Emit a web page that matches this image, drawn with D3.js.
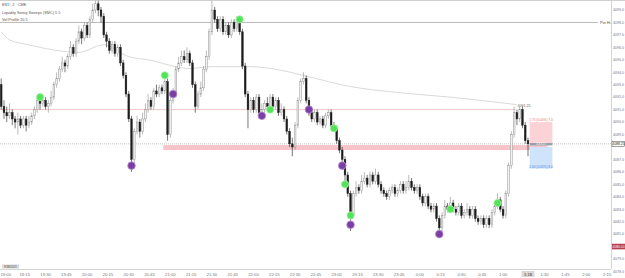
<!DOCTYPE html>
<html>
<head>
<meta charset="utf-8">
<script src="https://cdn.jsdelivr.net/npm/d3@7"></script>
<style>
  body { margin: 0; background: #fff; }
  svg { display: block; font-family: "Liberation Sans", Arial, sans-serif; }
</style>
</head>
<body>
<svg id="chart" width="625" height="278"></svg>
<script>
// 2 min candles, 18:58 -> 1:18
const firstOpen = 4093.0;
const closes = [
  4091.25, 4090.75, 4090.5, 4090.75, 4090.25, 4090.0, 4090.25, 4089.75, 4090.25, 4089.75,
  4090.0, 4090.5, 4091.0, 4091.75, 4091.5, 4091.75, 4091.25, 4091.5, 4092.0, 4093.0,
  4093.5, 4094.25, 4094.75, 4094.5, 4095.25, 4096.0, 4095.5, 4096.5, 4097.25, 4096.75,
  4097.75, 4097.0, 4098.25, 4099.0, 4099.5, 4099.0, 4098.5, 4097.0, 4096.5, 4095.75,
  4096.25, 4095.5, 4096.0, 4094.75, 4093.75, 4092.25, 4090.25, 4087.0, 4089.25, 4090.0,
  4089.25, 4090.25, 4091.0, 4091.75, 4091.25, 4092.5, 4092.25, 4092.75, 4092.5, 4093.25,
  4089.0, 4091.75, 4092.25, 4094.25, 4094.75, 4095.25, 4095.0, 4095.5, 4094.75, 4093.0,
  4091.25, 4092.25, 4092.75, 4094.25, 4095.25, 4097.25, 4099.0, 4098.25, 4097.5, 4098.25,
  4097.25, 4097.75, 4097.0, 4098.0, 4097.5, 4098.25, 4097.25, 4094.5, 4092.25, 4091.0,
  4091.75, 4091.0, 4092.0, 4090.75, 4091.0, 4091.5, 4091.25, 4092.0, 4091.25, 4091.75,
  4090.75, 4091.0, 4090.25, 4089.25, 4088.25, 4088.0, 4089.75, 4091.75, 4093.25, 4093.5,
  4091.75, 4090.75, 4090.25, 4090.75, 4090.0, 4090.25, 4089.75, 4090.5, 4090.75, 4089.75,
  4089.5, 4088.5, 4087.75, 4087.0, 4085.75, 4084.25, 4082.5, 4084.25, 4084.75, 4084.5,
  4085.25, 4085.5, 4085.0, 4085.75, 4085.25, 4085.75, 4085.0, 4084.5, 4084.25, 4084.0,
  4084.5, 4084.75, 4084.25, 4084.5, 4085.0, 4084.5, 4084.75, 4085.25, 4084.75, 4084.5,
  4084.75, 4084.0, 4083.5, 4084.0, 4083.25, 4083.0, 4083.25, 4082.25, 4081.5, 4082.5,
  4083.25, 4083.0, 4083.5, 4083.0, 4082.75, 4083.25, 4082.5, 4082.75, 4083.0, 4082.5,
  4083.0, 4082.25, 4082.0, 4082.25, 4081.75, 4082.25, 4081.75, 4082.75, 4083.25, 4083.75,
  4083.0, 4082.5, 4084.25, 4086.5, 4089.0, 4090.75, 4090.25, 4091.0, 4089.75, 4088.5,
  4088.25
];
const highs = [
  4093.5, 4091.75, 4091.25, 4091.5, 4091.0, 4090.5, 4090.75, 4090.5, 4090.5, 4090.5,
  4090.5, 4090.75, 4091.25, 4092.0, 4092.0, 4092.25, 4092.0, 4091.75, 4092.5, 4093.25,
  4094.0, 4094.5, 4095.25, 4095.0, 4095.5, 4096.5, 4096.25, 4096.75, 4097.75, 4097.5,
  4098.0, 4098.0, 4098.5, 4099.5, 4099.75, 4099.75, 4099.25, 4098.75, 4097.25, 4096.75,
  4096.5, 4096.5, 4096.25, 4096.25, 4095.0, 4094.0, 4092.5, 4090.5, 4089.5, 4090.5,
  4090.25, 4090.75, 4091.5, 4092.25, 4092.0, 4092.75, 4093.0, 4093.0, 4093.0, 4093.75,
  4093.5, 4092.0, 4092.75, 4094.5, 4095.25, 4095.75, 4095.75, 4096.0, 4095.75, 4095.0,
  4093.25, 4092.5, 4093.25, 4094.5, 4095.75, 4097.5, 4099.75, 4099.25, 4098.5, 4098.5,
  4098.5, 4098.0, 4098.0, 4098.25, 4098.25, 4098.5, 4098.5, 4097.5, 4094.75, 4092.5,
  4092.0, 4092.0, 4092.25, 4092.25, 4091.5, 4091.75, 4092.0, 4092.25, 4092.25, 4092.0,
  4092.0, 4091.5, 4091.25, 4090.5, 4089.5, 4088.75, 4090.0, 4092.0, 4093.5, 4094.0,
  4093.75, 4092.0, 4091.0, 4091.0, 4091.0, 4090.5, 4090.5, 4090.75, 4091.0, 4091.0,
  4090.0, 4089.75, 4088.75, 4088.0, 4087.25, 4086.0, 4084.5, 4084.5, 4085.25, 4085.0,
  4085.75, 4086.0, 4085.75, 4086.0, 4086.0, 4086.25, 4086.0, 4085.25, 4084.75, 4084.5,
  4084.75, 4085.0, 4085.0, 4084.75, 4085.25, 4085.25, 4085.25, 4085.75, 4085.5, 4085.0,
  4085.0, 4085.0, 4084.25, 4084.25, 4084.25, 4083.5, 4083.5, 4083.5, 4082.5, 4082.75,
  4083.75, 4083.5, 4084.0, 4083.75, 4083.25, 4083.5, 4083.5, 4083.0, 4083.5, 4083.25,
  4083.25, 4083.25, 4082.5, 4082.5, 4082.5, 4082.5, 4082.5, 4083.0, 4083.5, 4084.25,
  4084.0, 4083.25, 4084.5, 4086.75, 4089.25, 4091.25, 4091.0, 4091.25, 4091.25, 4090.0,
  4088.75
];
const lows = [
  4091.0, 4090.25, 4090.0, 4090.25, 4089.75, 4089.5, 4089.0, 4089.5, 4089.5, 4089.25,
  4089.5, 4089.75, 4090.25, 4090.75, 4091.0, 4091.25, 4091.0, 4090.75, 4091.25, 4091.75,
  4092.75, 4093.25, 4094.0, 4094.0, 4094.25, 4095.0, 4095.25, 4095.25, 4096.25, 4096.25,
  4096.5, 4096.75, 4096.75, 4098.0, 4098.75, 4098.5, 4098.0, 4096.75, 4096.0, 4095.5,
  4095.5, 4095.25, 4095.25, 4094.5, 4093.5, 4092.0, 4090.0, 4086.0, 4086.75, 4089.0,
  4088.75, 4089.0, 4090.0, 4090.75, 4091.0, 4091.0, 4092.0, 4092.0, 4092.25, 4092.25,
  4088.5, 4088.75, 4091.5, 4092.0, 4094.0, 4094.5, 4094.75, 4094.75, 4094.5, 4092.75,
  4090.75, 4091.0, 4092.0, 4092.5, 4094.0, 4095.0, 4097.0, 4098.0, 4097.25, 4097.25,
  4097.0, 4097.0, 4096.75, 4096.75, 4097.25, 4097.25, 4097.0, 4094.25, 4092.0, 4089.5,
  4090.75, 4090.75, 4090.75, 4090.5, 4090.25, 4090.75, 4091.0, 4091.0, 4091.0, 4091.0,
  4090.5, 4090.5, 4090.0, 4089.0, 4088.0, 4087.25, 4087.75, 4089.5, 4091.5, 4093.0,
  4091.5, 4090.5, 4090.0, 4090.0, 4089.75, 4089.75, 4089.5, 4089.5, 4090.25, 4089.5,
  4089.25, 4088.25, 4087.5, 4086.75, 4085.25, 4084.0, 4081.25, 4082.25, 4084.0, 4084.25,
  4084.25, 4085.0, 4084.75, 4084.75, 4085.0, 4085.0, 4084.75, 4084.25, 4084.0, 4083.75,
  4083.75, 4084.25, 4084.0, 4084.0, 4084.25, 4084.25, 4084.25, 4084.5, 4084.5, 4084.25,
  4084.25, 4083.75, 4083.25, 4083.25, 4083.0, 4082.75, 4082.75, 4082.0, 4080.75, 4081.25,
  4082.25, 4082.75, 4082.75, 4082.75, 4082.5, 4082.5, 4082.25, 4082.25, 4082.5, 4082.25,
  4082.25, 4082.0, 4081.75, 4081.75, 4081.5, 4081.5, 4081.5, 4081.5, 4082.5, 4083.0,
  4082.75, 4082.25, 4082.25, 4084.0, 4086.25, 4088.75, 4089.75, 4090.0, 4089.5, 4088.25,
  4087.25
];

// session vwap, read at a few bars
const vwapIdx = [0, 3, 10, 28, 37, 46, 53, 68, 76, 90, 100, 108, 126, 144, 162, 186];
const vwapPx = [4097.25, 4096.6, 4096.2, 4095.6, 4096.2, 4095.25, 4095.0, 4094.3, 4094.45, 4094.45, 4094.2, 4093.8, 4092.85, 4092.35, 4092.0, 4091.4];

// swing markers
const greenIdx = [14, 59, 86, 97, 120, 124, 126, 162, 179];
const greenPx = [4092.0, 4093.75, 4098.25, 4091.0, 4089.5, 4085.0, 4082.5, 4083.0, 4083.5];
const purpleIdx = [47, 62, 94, 111, 123, 126, 158];
const purplePx = [4086.5, 4092.25, 4090.5, 4091.0, 4086.5, 4081.75, 4081.0];

const priceTicks = [4099, 4098, 4097, 4096, 4095, 4094, 4093, 4092, 4091, 4090, 4089,
  4088, 4087, 4086, 4085, 4084, 4083, 4082, 4081, 4080, 4079, 4078];
const timeLabels = ['19:00', '19:15', '19:30', '19:45', '20:00', '20:15', '20:30', '20:45',
  '21:00', '21:15', '21:30', '21:45', '22:00', '22:15', '22:30', '22:45', '23:00', '23:15',
  '23:30', '23:45', '0:00', '0:15', '0:30', '0:45', '1:00', '1:15', '1:30', '1:45', '2:00', '2:15'];

const pwHigh = 4098.0;
const sweepHigh = 4091.0;
const lastPrice = 4088.25;
const zoneTop = 4088.15, zoneBottom = 4087.75, zoneStart = 58.5;
const targetPx = 4090.0, stopPx = 4086.25;
const axisMark = 4080.0;
const lastTime = '1:18';

const W = 625, H = 278, plotR = 611, plotB = 269;
const svg = d3.select('#chart');

const x = d3.scaleLinear().domain([0, 190]).range([1.2, 528]);
const y = d3.scaleLinear().domain([4078, 4099]).range([271.45, 10]);
const fmt = d3.format('.2f');

svg.append('defs').append('clipPath').attr('id', 'plot')
  .append('rect').attr('x', 0).attr('y', 0).attr('width', plotR).attr('height', plotB);

// frame
svg.append('line').attr('x1', 0).attr('x2', W).attr('y1', 0.5).attr('y2', 0.5).attr('stroke', '#d0d0d0');
svg.append('line').attr('x1', plotR + 0.5).attr('x2', plotR + 0.5).attr('y1', 0).attr('y2', plotB)
  .attr('stroke', '#c8c8c8').attr('stroke-width', 0.8);
svg.append('line').attr('x1', 0).attr('x2', plotR).attr('y1', plotB + 0.5).attr('y2', plotB + 0.5)
  .attr('stroke', '#c8c8c8').attr('stroke-width', 0.8);

const g = svg.append('g').attr('clip-path', 'url(#plot)');

// liquidity zone
g.append('rect')
  .attr('x', x(zoneStart)).attr('width', x(197) - x(zoneStart))
  .attr('y', y(zoneTop)).attr('height', y(zoneBottom) - y(zoneTop))
  .attr('fill', '#f5c3c9');

// position tool
const px0 = x(190.6), px1 = x(198.8);
g.append('rect').attr('x', px0).attr('width', px1 - px0)
  .attr('y', y(targetPx)).attr('height', y(lastPrice) - y(targetPx)).attr('fill', '#fbd3d6');
g.append('rect').attr('x', px0).attr('width', px1 - px0)
  .attr('y', y(lastPrice - 0.25)).attr('height', y(stopPx) - y(lastPrice - 0.25)).attr('fill', '#cfe3fb');
g.append('text').attr('x', (px0 + px1) / 2).attr('y', y(targetPx) - 1.2)
  .attr('text-anchor', 'middle').attr('font-size', 3.2).attr('fill', '#e0707a')
  .text(`${fmt(targetPx - lastPrice)} (0.04%) 7.0`);
g.append('text').attr('x', (px0 + px1) / 2).attr('y', y(stopPx) - 1)
  .attr('text-anchor', 'middle').attr('font-size', 3.2).attr('fill', '#4a8be0')
  .text(`${fmt(lastPrice - stopPx)} (0.05%) 8.0`);
g.append('rect').attr('x', px0).attr('width', px1 - px0)
  .attr('y', y(lastPrice) - 0.8).attr('height', 2.4).attr('fill', '#9aa3ad');
g.append('text').attr('x', (px0 + px1) / 2).attr('y', y(lastPrice) + 1.1)
  .attr('text-anchor', 'middle').attr('font-size', 2.6).attr('fill', '#fff')
  .text(fmt(lastPrice));

// horizontal levels
g.append('line').attr('x1', 0).attr('x2', 598).attr('y1', y(pwHigh)).attr('y2', y(pwHigh))
  .attr('stroke', '#8a8a8a').attr('stroke-width', 0.6);
g.append('text').attr('x', 600).attr('y', y(pwHigh) + 1.3).attr('font-size', 4).attr('fill', '#555').text('Pw Hi');

g.append('line').attr('x1', 0).attr('x2', x(185.5)).attr('y1', y(sweepHigh)).attr('y2', y(sweepHigh))
  .attr('stroke', '#e6a0a8').attr('stroke-width', 0.6);
g.append('text').attr('x', x(186.2)).attr('y', y(sweepHigh + 0.2)).attr('font-size', 3.6)
  .attr('fill', '#666').text(fmt(highs[185]));

g.append('line').attr('x1', 0).attr('x2', plotR).attr('y1', y(lastPrice)).attr('y2', y(lastPrice))
  .attr('stroke', '#8f8f8f').attr('stroke-width', 0.5).attr('stroke-dasharray', '1,1');

// vwap
g.append('path')
  .datum(vwapIdx.map((d, i) => [d, vwapPx[i]]))
  .attr('d', d3.line().x(d => x(d[0])).y(d => y(d[1])).curve(d3.curveMonotoneX))
  .attr('fill', 'none').attr('stroke', '#c9c9c9').attr('stroke-width', 0.7);

// candles
const candles = closes.map((c, i) => ({
  i, c, o: i === 0 ? firstOpen : closes[i - 1], h: highs[i], l: lows[i]
}));
const cg = g.append('g');
cg.selectAll('line.wick').data(candles).join('line')
  .attr('class', 'wick')
  .attr('x1', d => x(d.i)).attr('x2', d => x(d.i))
  .attr('y1', d => y(d.h)).attr('y2', d => y(d.l))
  .attr('stroke', d => d.c >= d.o ? '#8d8d8d' : '#1c1c1c').attr('stroke-width', 0.6);
cg.selectAll('rect.body').data(candles).join('rect')
  .attr('class', 'body')
  .attr('x', d => x(d.i) - 0.85).attr('width', 1.7)
  .attr('y', d => y(Math.max(d.o, d.c)))
  .attr('height', d => Math.max(0.7, Math.abs(y(d.o) - y(d.c))))
  .attr('fill', d => d.c >= d.o ? '#f2f2f2' : '#1c1c1c')
  .attr('stroke', d => d.c >= d.o ? '#8d8d8d' : '#1c1c1c').attr('stroke-width', 0.45);

// swing markers
g.selectAll('circle.green').data(greenIdx).join('circle')
  .attr('class', 'green')
  .attr('cx', d => x(d)).attr('cy', (d, i) => y(greenPx[i])).attr('r', 3.6)
  .attr('fill', '#52e35a').attr('stroke', '#a6f3a2').attr('stroke-width', 0.8);
g.selectAll('circle.purple').data(purpleIdx).join('circle')
  .attr('class', 'purple')
  .attr('cx', d => x(d)).attr('cy', (d, i) => y(purplePx[i])).attr('r', 3.8)
  .attr('fill', '#7b3fa3').attr('stroke', '#b58bd0').attr('stroke-width', 0.8);

// price axis (ticks under the price boxes are hidden, like the platform does)
const boxed = [lastPrice, axisMark];
const pa = svg.append('g');
pa.selectAll('text').data(priceTicks.filter(t => boxed.every(b => Math.abs(y(t) - y(b)) > 6))).join('text')
  .attr('x', plotR + 2).attr('y', d => y(d) + 1.3)
  .attr('font-size', 3.6).attr('fill', '#777').text(d => d.toFixed(1));

pa.append('rect').attr('x', plotR + 1).attr('y', y(lastPrice) - 2.5).attr('width', 12.6).attr('height', 5)
  .attr('fill', '#fff').attr('stroke', '#444').attr('stroke-width', 0.5);
pa.append('text').attr('x', plotR + 1.6).attr('y', y(lastPrice) + 1.3)
  .attr('font-size', 3.3).attr('fill', '#222').text(fmt(lastPrice));

pa.append('rect').attr('x', plotR + 1).attr('y', y(axisMark) - 2.8).attr('width', 13).attr('height', 5.6)
  .attr('fill', '#b5404f');
pa.append('text').attr('x', plotR + 1.6).attr('y', y(axisMark) + 1.3)
  .attr('font-size', 3.3).attr('fill', '#fff').text(fmt(axisMark));

// time axis
const ta = svg.append('g');
const tickX = k => x(1 + 7.5 * k);
const lastX = x(closes.length - 1);
ta.selectAll('text').data(timeLabels.map((t, k) => ({ t, k })).filter(d => Math.abs(tickX(d.k) - lastX) > 11)).join('text')
  .attr('x', d => d.k === 0 ? 0.5 : tickX(d.k)).attr('y', 275.5)
  .attr('text-anchor', d => d.k === 0 ? 'start' : 'middle')
  .attr('font-size', 4.2).attr('fill', '#777').text(d => d.t);
ta.append('rect').attr('x', lastX - 6.5).attr('y', 271).attr('width', 13).attr('height', 6)
  .attr('fill', '#d9d9d9');
ta.append('text').attr('x', lastX).attr('y', 275.5).attr('text-anchor', 'middle')
  .attr('font-size', 4.2).attr('fill', '#333').text(lastTime);

// legend, top left
const legend = ['ES1!, 2 · CME', 'Liquidity Swing Sweeps (SMC) 5 5', 'Vol Profile 20 5'];
svg.selectAll('text.legend').data(legend).join('text')
  .attr('class', 'legend')
  .attr('x', 2).attr('y', (d, i) => 6 + i * 7.5)
  .attr('font-size', 3.8).attr('fill', '#555').text(d => d);

// bottom-left tag
svg.append('rect').attr('x', 2).attr('y', 264.5).attr('width', 17).attr('height', 4).attr('fill', '#dcdcdc');
svg.append('text').attr('x', 10.5).attr('y', 267.7).attr('text-anchor', 'middle')
  .attr('font-size', 2.8).attr('fill', '#555').text('ESM2023');
</script>
</body>
</html>
